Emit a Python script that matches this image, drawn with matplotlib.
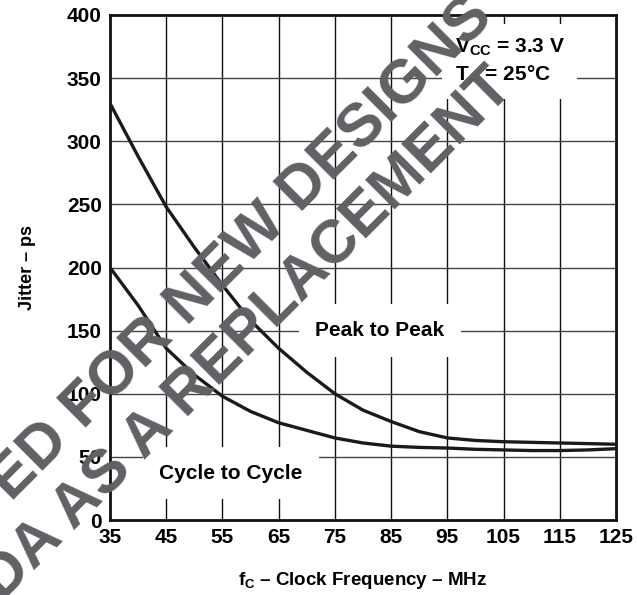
import matplotlib
matplotlib.use("Agg")
import matplotlib.pyplot as plt

plt.rcParams['font.family'] = ['Liberation Sans', 'DejaVu Sans']
plt.rcParams['font.weight'] = 'bold'
plt.rcParams['mathtext.fontset'] = 'custom'
plt.rcParams['mathtext.rm'] = 'Liberation Sans:bold'
plt.rcParams['mathtext.bf'] = 'Liberation Sans:bold'
plt.rcParams['mathtext.it'] = 'Liberation Sans:bold'

freq = [35, 40, 45, 50, 55, 60, 65, 70, 75, 80, 85, 90, 95, 100, 105, 110, 115, 120, 125]
peak_to_peak = [330, 288, 248, 216, 186, 158, 136, 117, 100, 87, 78, 70, 65, 63, 62, 61.5, 61, 60.5, 60]
cycle_to_cycle = [200, 170, 136, 115, 98, 86, 77, 71, 65, 61, 58.5, 57.5, 57, 56, 55.5, 55, 55, 55.5, 56.5]
xticks = [35, 45, 55, 65, 75, 85, 95, 105, 115, 125]
yticks = [0, 50, 100, 150, 200, 250, 300, 350, 400]

fig = plt.figure(figsize=(6.37, 5.95), dpi=100)
ax = fig.add_axes([110/637, 1-520/595, 506/637, 505/595])

ax.plot(freq, peak_to_peak, color='#1a1a1a', lw=2.4, zorder=3, solid_joinstyle='round')
ax.plot(freq, cycle_to_cycle, color='#1a1a1a', lw=2.4, zorder=3, solid_joinstyle='round')

ax.set_xlim(35, 125)
ax.set_ylim(0, 400)
ax.set_xticks(xticks)
ax.set_yticks(yticks)
ax.tick_params(length=0, labelsize=15, pad=6)
for lbl in ax.get_xticklabels() + ax.get_yticklabels():
    lbl.set_fontweight('bold')

for x in xticks[1:-1]:
    ax.axvline(x, color='#111111', lw=1.0, zorder=1)
for y in yticks[1:-1]:
    ax.axhline(y, color='#444444', lw=1.0, zorder=1)

for s in ax.spines.values():
    s.set_linewidth(2.0)
    s.set_color('#111111')

ax.set_ylabel('Jitter – ps', fontsize=13, fontweight='bold', labelpad=22)
ax.set_xlabel(r'f$_\mathrm{C}$ – Clock Frequency – MHz', fontsize=13.5, fontweight='bold', labelpad=16)

ax.text(83, 150, 'Peak to Peak', fontsize=15, fontweight='bold', ha='center', va='center',
        zorder=4, bbox=dict(boxstyle='square,pad=0.8', fc='white', ec='none'))
ax.text(56.5, 37, 'Cycle to Cycle', fontsize=15, fontweight='bold', ha='center', va='center',
        zorder=4, bbox=dict(boxstyle='square,pad=0.8', fc='white', ec='none'))
ax.text(96.3, 363, r'V$_\mathrm{CC}$ = 3.3 V' + '\n' + r'T$_\mathrm{A}$ = 25°C', fontsize=15,
        fontweight='bold', ha='left', va='center', linespacing=1.35, zorder=4,
        bbox=dict(boxstyle='square,pad=0.6', fc='white', ec='none'))

wm_color = '#5f6164'
fig.text(242/637, 1-250/595, 'ED FOR NEW DESIGNS', fontsize=44, fontweight='bold', color=wm_color,
         rotation=45, rotation_mode='anchor', ha='center', va='center', zorder=10)
fig.text(248/637, 1-335/595, 'DA AS A REPLACEMENT', fontsize=44, fontweight='bold', color=wm_color,
         rotation=45, rotation_mode='anchor', ha='center', va='center', zorder=10)

fig.savefig('out.png', dpi=100)
